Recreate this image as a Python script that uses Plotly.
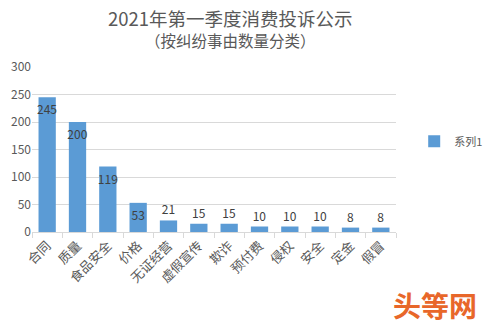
import plotly.graph_objects as go

categories = ["合同", "质量", "食品安全", "价格", "无证经营", "虚假宣传",
              "欺诈", "预付费", "侵权", "安全", "定金", "假冒"]
counts = [245, 200, 119, 53, 21, 15, 15, 10, 10, 10, 8, 8]
y_ticks = [0, 50, 100, 150, 200, 250, 300]

FONT = "Noto Sans CJK SC, Microsoft YaHei, sans-serif"
BAR = "#5b9bd5"

fig = go.Figure(
    go.Bar(
        x=categories,
        y=counts,
        name="系列1",
        marker=dict(color=BAR, line=dict(width=0)),
        text=[str(v) for v in counts],
        textposition="auto",
        insidetextanchor="end",
        textangle=0,
        constraintext="none",
        textfont=dict(family=FONT, size=12, color="#404040"),
        insidetextfont=dict(color="#404040"),
        outsidetextfont=dict(color="#404040"),
        cliponaxis=False,
    )
)

# page-centred headings (plot area spans x 32..431 of a 500px page)
PAGE_CENTER = (250 - 32) / 399

fig.update_layout(
    width=500,
    height=332,
    margin=dict(l=32, r=69, t=67, b=100),
    paper_bgcolor="white",
    plot_bgcolor="white",
    bargap=0.43,
    font=dict(family=FONT, color="#595959"),
    showlegend=True,
    legend=dict(
        x=1.05, y=0.55, xanchor="left", yanchor="middle",
        font=dict(size=11, color="#595959"),
        itemwidth=30,
    ),
    annotations=[
        dict(text="2021年第一季度消费投诉公示", x=PAGE_CENTER, y=1.297, xref="paper", yref="paper",
             xanchor="center", yanchor="middle", showarrow=False,
             font=dict(size=18.5, color="#595959", family=FONT)),
        dict(text="（按纠纷事由数量分类）", x=PAGE_CENTER, y=1.164, xref="paper", yref="paper",
             xanchor="center", yanchor="middle", showarrow=False,
             font=dict(size=15.5, color="#595959", family=FONT)),
        dict(text="<b>头等网</b>", x=(425 - 32) / 399, y=-0.44, xref="paper", yref="paper",
             xanchor="left", yanchor="middle", showarrow=False,
             font=dict(size=28, color="#e8672a", family=FONT)),
    ],
)

fig.update_xaxes(
    type="category",
    tickson="boundaries",
    ticks="outside",
    ticklen=5,
    tickcolor="#d9d9d9",
    showline=True,
    linecolor="#d9d9d9",
    tickangle=-45,
    tickfont=dict(size=13, color="#595959", family=FONT),
    showgrid=False,
)
fig.update_yaxes(
    range=[0, 300],
    tickvals=y_ticks,
    showgrid=True,
    gridcolor="#d9d9d9",
    zeroline=False,
    showline=False,
    tickfont=dict(size=12, color="#595959", family=FONT),
    ticks="",
)

fig.write_html("out.html")
